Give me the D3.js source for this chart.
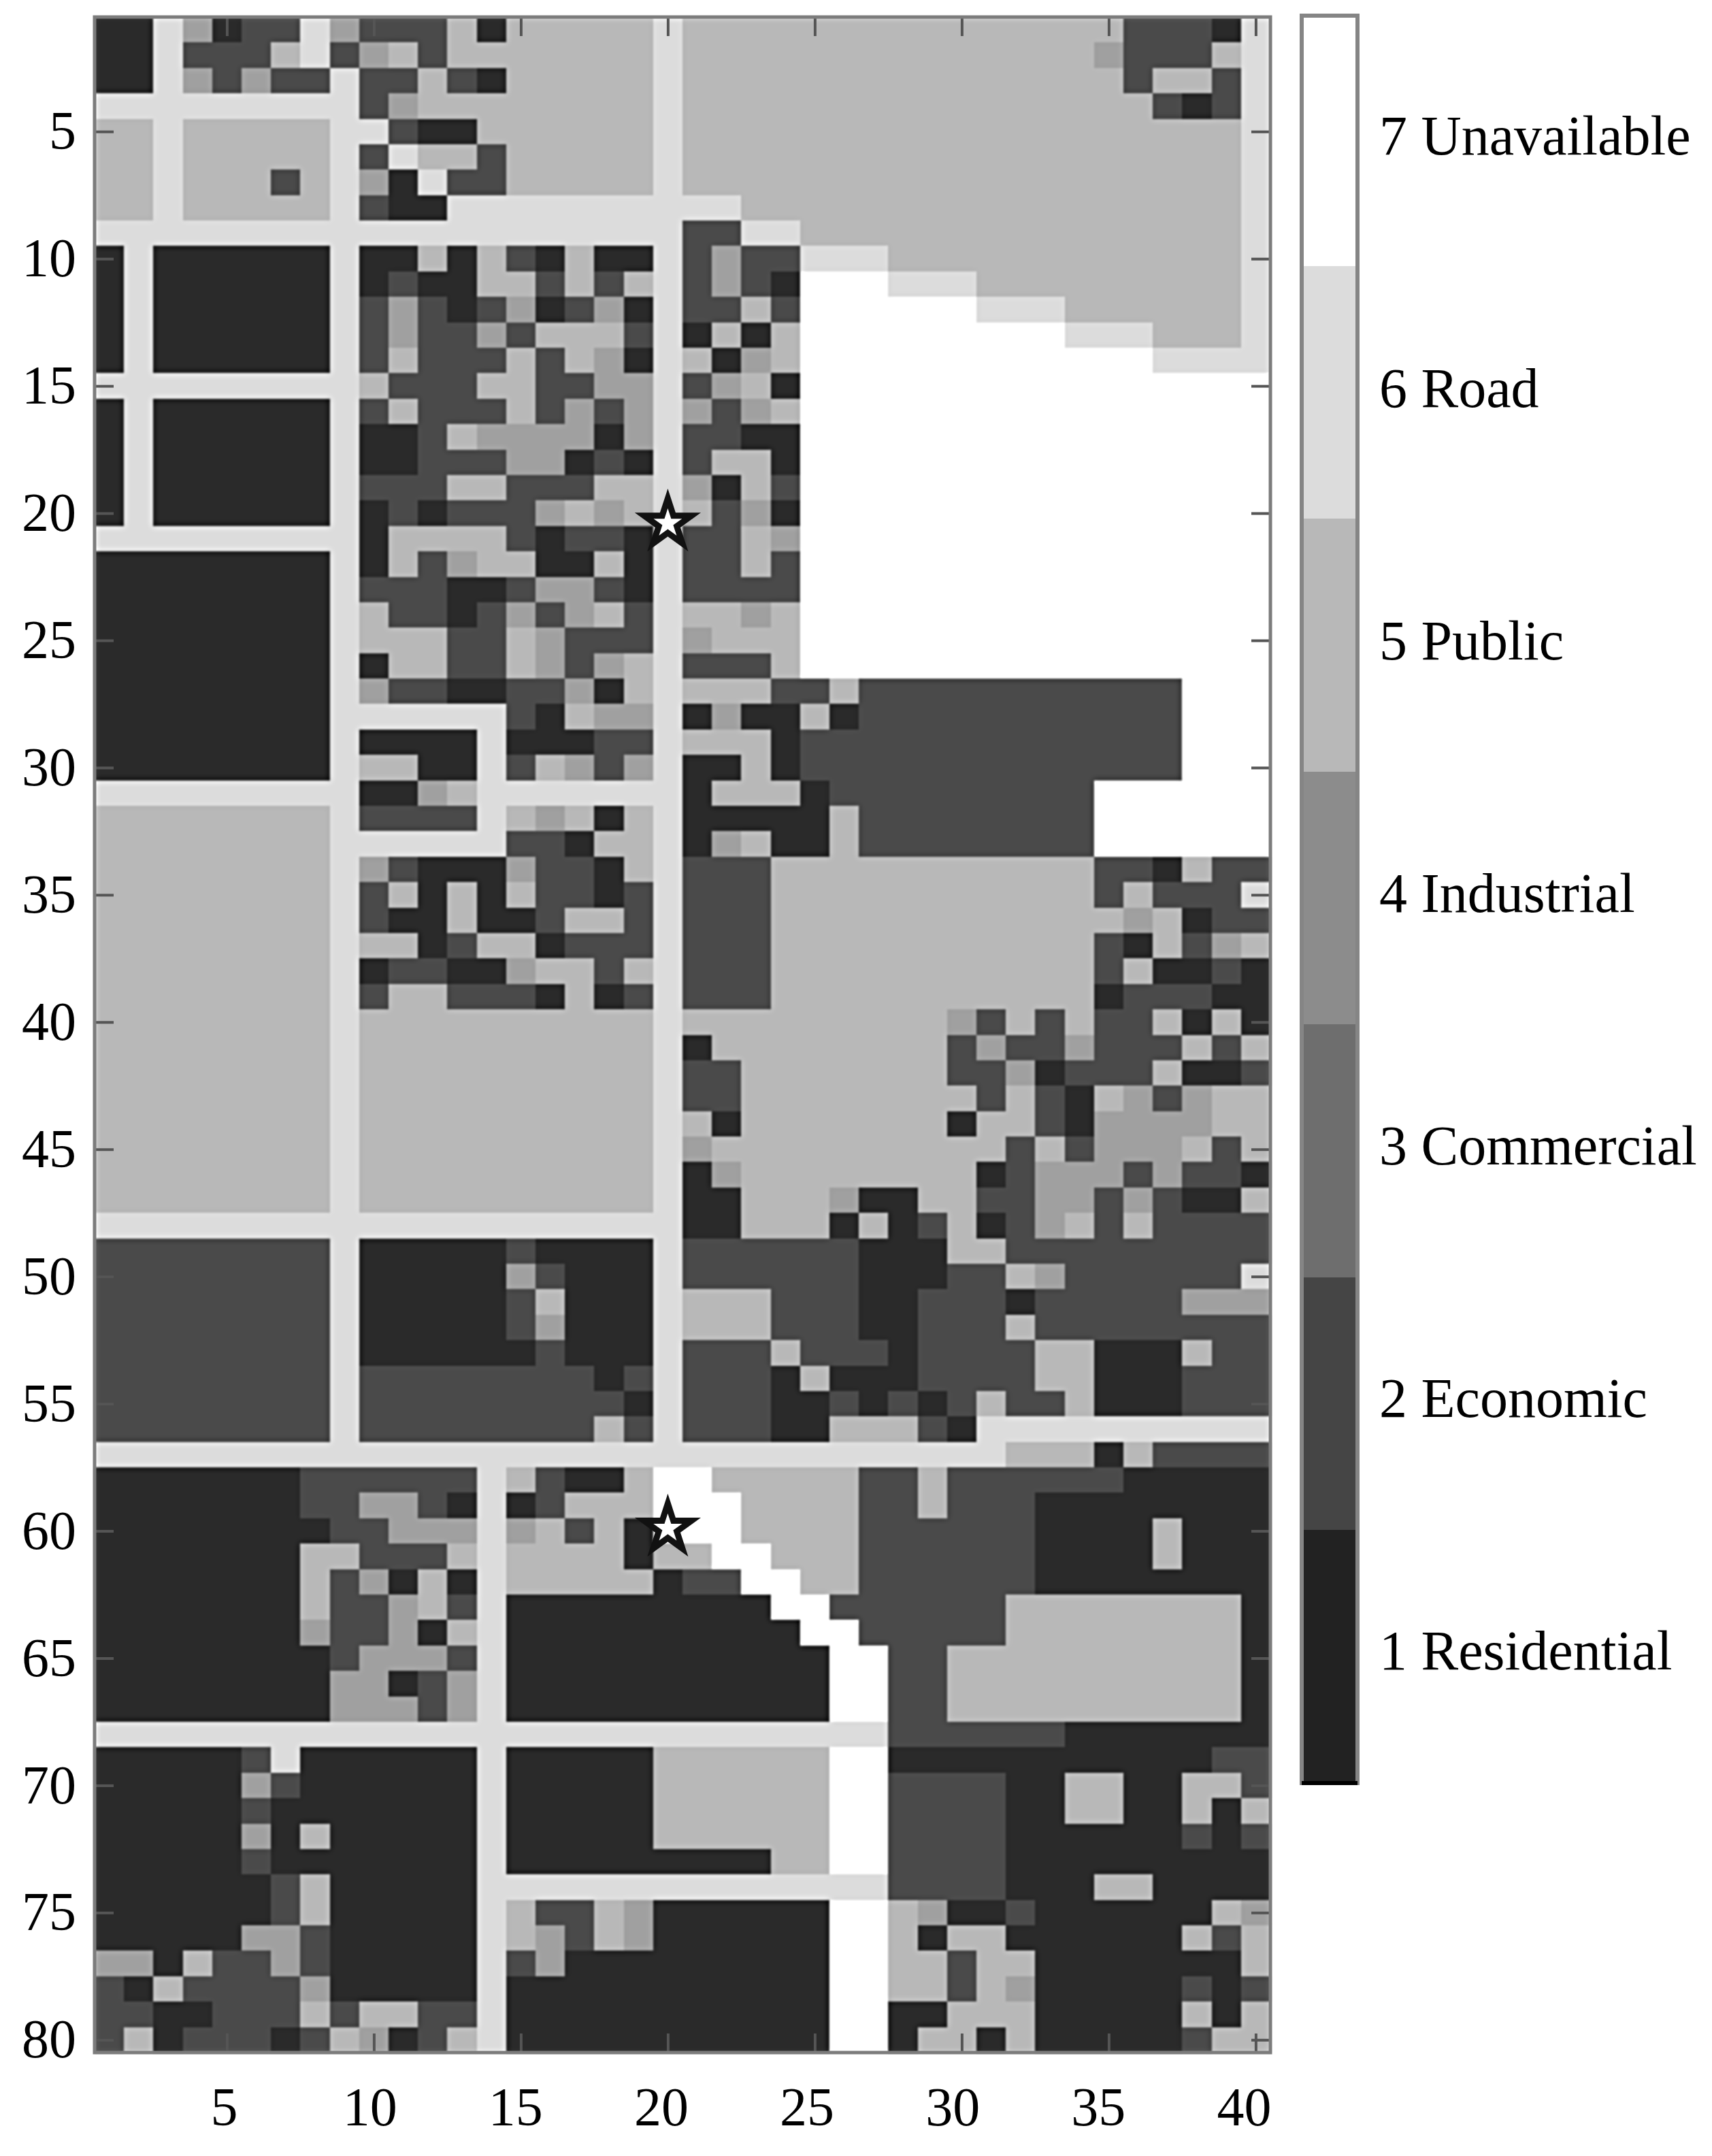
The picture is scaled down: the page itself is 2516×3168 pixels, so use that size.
<!DOCTYPE html>
<html>
<head>
<meta charset="utf-8">
<script src="https://cdn.jsdelivr.net/npm/d3@7"></script>
<style>
  html, body { margin: 0; padding: 0; background: #fff; }
  svg { display: block; }
</style>
</head>
<body>
<svg id="vis" width="2516" height="3168"></svg>
<script>
// Land use codes, as in the colour bar, top to bottom
const CODES = [7, 6, 5, 4, 3, 2, 1];
const CODE_NAMES = ["7 Unavailable", "6 Road", "5 Public", "4 Industrial", "3 Commercial", "2 Economic", "1 Residential"];
const MAP_GREYS = ["#ffffff", "#dcdcdc", "#b8b8b8", "#a0a0a0", "#6e6e6e", "#4a4a4a", "#2a2a2a"];
const BAR_GREYS = ["#ffffff", "#dcdcdc", "#b8b8b8", "#8c8c8c", "#6e6e6e", "#454545", "#222222"];

const X_TICKS = [5, 10, 15, 20, 25, 30, 35, 40];
const Y_TICKS = [5, 10, 15, 20, 25, 30, 35, 40, 45, 50, 55, 60, 65, 70, 75, 80];

// Star markers, in grid units
const STAR_COLS = [20, 20];
const STAR_ROWS = [20.4, 59.9];

// One string per grid row, one digit per column, in blocks of ten
const GRID = [
  "1164122642 2251555556 5555555555 5555522216",
  "1162225624 5255555556 5555555555 5555422256",
  "1164242262 2521555556 5555555555 5555525526",
  "6666666662 4555555556 5555555555 5555552126",
  "5565555566 2115555556 5555555555 5555555556",
  "5565555562 6552555556 5555555555 5555555556",
  "5565552564 1622555556 5555555555 5555555556",
  "5565555562 1166666666 6655555555 5555555556",
  "6666666666 6666666666 2266555555 5555555556",
  "1611111161 1515215116 2422666555 5555555556",
  "1611111161 2115525256 2421777666 5555555556",
  "1611111162 4212412416 2252777777 6665555556",
  "1611111162 4224255526 1515777777 7776665556",
  "1611111162 5222525416 5145777777 7777776666",
  "6666666665 2225522446 2451777777 7777777777",
  "1611111162 5222524246 4245777777 7777777777",
  "1611111161 1254444146 2211777777 7777777777",
  "1611111161 1222441216 2551777777 7777777777",
  "1611111162 2255222556 4152777777 7777777777",
  "1611111161 2122245456 5241777777 7777777777",
  "6666666661 5555212216 2254777777 7777777777",
  "1111111161 5245511516 2252777777 7777777777",
  "1111111162 2211244216 2222777777 7777777777",
  "1111111165 2212424526 5545777777 7777777777",
  "1111111165 5522542226 4555777777 7777777777",
  "1111111161 5522542456 2225777777 7777777777",
  "1111111164 2211224156 5552252222 2222222777",
  "1111111166 6666215446 1411512222 2222222777",
  "1111111161 1116111226 5551222222 2222222777",
  "1111111165 5116254246 1151222222 2222222777",
  "6666666661 1456666666 1555122222 2222777777",
  "5555555562 2226545156 1111152222 2222777777",
  "5555555566 6666221556 1451152222 2222777777",
  "5555555564 2111422156 2225555555 5555221522",
  "5555555562 5151522126 2225555555 5555252226",
  "5555555562 1151125526 2225555555 5555545122",
  "5555555565 5125512226 2225555555 5555215245",
  "5555555561 2211455256 2225555555 5555251121",
  "5555555562 5522215126 2225555555 5555122211",
  "5555555565 5555555556 5555555554 2525225151",
  "5555555565 5555555556 1555555552 4224222525",
  "5555555565 5555555556 2255555552 2412225112",
  "5555555565 5555555556 2255555555 2521542455",
  "5555555565 5555555556 5155555551 5521444455",
  "5555555565 5555555556 4555555555 5252444525",
  "5555555565 5555555556 1455555555 1244424221",
  "5555555565 5555555556 1155541155 2244242115",
  "6666666666 6666666666 1155515125 1245252222",
  "2222222261 1111211116 2222221115 5222222222",
  "2222222261 1111421116 2222221112 2542222226",
  "2222222261 1111251116 5552221122 2122222444",
  "2222222261 1111241116 5552221122 2522222222",
  "2222222261 1111121116 2225222122 2255111522",
  "2222222262 2222222126 2221511122 2255111222",
  "2222222262 2222222216 2221121212 5225111222",
  "2222222262 2222222526 2221155521 6666666666",
  "6666666666 6666666666 6666666666 6555152222",
  "1111111222 2226521157 7555552252 2222211111",
  "1111111224 4216125557 7755552252 2211111111",
  "1111111122 4446452517 7755552222 2211115111",
  "1111111552 2256555515 5775552222 2211115111",
  "1111111524 1516555551 2277552222 2211111111",
  "1111111522 4526111111 1117722222 2555555551",
  "1111111422 4156111111 1111772222 2555555551",
  "1111111124 4426111111 1111177225 5555555551",
  "1111111144 1246111111 1111177225 5555555551",
  "1111111144 4246111111 1111177225 5555555551",
  "6666666666 6666666666 6666666222 2221111111",
  "1111126111 1116111115 5555577111 1111111122",
  "1111142111 1116111115 5555577222 2115511552",
  "1111121111 1116111115 5555577222 2115511515",
  "1111141511 1116111115 5555577222 2111111212",
  "1111121111 1116111111 1115577222 2111111111",
  "1111112511 1116666666 6666666222 2111551111",
  "1111112511 1116522541 1111177541 1211111154",
  "1111144211 1116542541 1111177515 5111111525",
  "4415224211 1116241111 1111177552 5511111115",
  "2152222411 1116111111 1111177552 5411111212",
  "2211222525 5226111111 1111177115 5511111515",
  "2512221254 1256111111 1111177155 1511111255"
];

const SVG = d3.select("#vis");

const LEFT = 139, RIGHT = 1867, TOP = 25, BOTTOM = 3016;
const COLS = d3.range(1, 41);
const ROWS = d3.range(1, 81);

const x = d3.scaleBand().domain(COLS).range([LEFT, RIGHT]);
const y = d3.scaleBand().domain(ROWS).range([TOP, BOTTOM]);
// Continuous versions for the ticks and the stars
const xPos = d3.scaleLinear().domain([0.5, 40.5]).range([LEFT, RIGHT]);
const yPos = d3.scaleLinear().domain([0.5, 80.5]).range([TOP, BOTTOM]);
// The printed x labels sit a little tighter than the ticks
const xLabel = d3.scaleLinear().domain([5, 40]).range([329, 1828]);

const mapGrey = d3.scaleOrdinal(CODES, MAP_GREYS);
const barGrey = d3.scaleOrdinal(CODES, BAR_GREYS);

// Soft, slightly over-sharpened look of the scanned figure
const filter = SVG.append("defs").append("filter")
  .attr("id", "scan")
  .attr("filterUnits", "userSpaceOnUse")
  .attr("x", 0).attr("y", 0).attr("width", 2516).attr("height", 3168)
  .attr("color-interpolation-filters", "sRGB");
filter.append("feGaussianBlur").attr("in", "SourceGraphic").attr("stdDeviation", 1.6).attr("result", "soft");
filter.append("feGaussianBlur").attr("in", "SourceGraphic").attr("stdDeviation", 5).attr("result", "wide");
filter.append("feComposite").attr("in", "soft").attr("in2", "wide")
  .attr("operator", "arithmetic").attr("k1", 0).attr("k2", 1.45).attr("k3", -0.45).attr("k4", 0);

// Map cells
const cells = [];
GRID.forEach((row, r) => {
  row.replace(/ /g, "").split("").forEach((c, i) => cells.push({ row: r + 1, col: i + 1, code: +c }));
});

const mapG = SVG.append("g").attr("filter", "url(#scan)");
mapG.append("g").selectAll("rect")
  .data(cells)
  .join("rect")
  .attr("x", d => x(d.col))
  .attr("y", d => y(d.row))
  .attr("width", x.bandwidth() + 0.5)
  .attr("height", y.bandwidth() + 0.5)
  .attr("fill", d => mapGrey(d.code))
  .attr("shape-rendering", "crispEdges");

// Inward ticks on all four sides
const tickG = SVG.append("g");
tickG.append("g").attr("transform", `translate(0, ${TOP})`)
  .call(d3.axisTop(xPos).tickValues(X_TICKS).tickSize(-28).tickFormat(""));
tickG.append("g").attr("transform", `translate(0, ${BOTTOM})`)
  .call(d3.axisBottom(xPos).tickValues(X_TICKS).tickSize(-28).tickFormat(""));
tickG.append("g").attr("transform", `translate(${LEFT}, 0)`)
  .call(d3.axisLeft(yPos).tickValues(Y_TICKS).tickSize(-28).tickFormat(""));
tickG.append("g").attr("transform", `translate(${RIGHT}, 0)`)
  .call(d3.axisRight(yPos).tickValues(Y_TICKS).tickSize(-28).tickFormat(""));
tickG.selectAll(".domain").remove();
tickG.selectAll("line").attr("stroke", "#555").attr("stroke-width", 4);

// Plot frame
SVG.append("rect")
  .attr("x", LEFT).attr("y", TOP)
  .attr("width", RIGHT - LEFT).attr("height", BOTTOM - TOP)
  .attr("fill", "none").attr("stroke", "#7c7c7c").attr("stroke-width", 5);

// Stars
const star = d3.symbol().type(d3.symbolStar).size(1500);
SVG.append("g").selectAll("path")
  .data(STAR_COLS.map((c, i) => ({ col: c, row: STAR_ROWS[i] })))
  .join("path")
  .attr("d", star)
  .attr("transform", d => `translate(${xPos(d.col)}, ${yPos(d.row)})`)
  .attr("fill", "#fff")
  .attr("stroke", "#111")
  .attr("stroke-width", 9)
  .attr("stroke-linejoin", "miter");

// Tick labels
const labelStyle = g => {
  g.attr("font-family", "'Liberation Serif', serif").attr("font-size", 80);
  g.selectAll("text").attr("fill", "#000");
  g.select(".domain").remove();
};
SVG.append("g").attr("transform", `translate(0, ${BOTTOM})`)
  .call(d3.axisBottom(xLabel).tickValues(X_TICKS).tickSize(0).tickPadding(50))
  .call(labelStyle);
SVG.append("g").attr("transform", `translate(${LEFT}, 0)`)
  .call(d3.axisLeft(yPos).tickValues(Y_TICKS).tickSize(0).tickPadding(27))
  .call(labelStyle);

// Colour bar
const BAR_LEFT = 1913, BAR_RIGHT = 1995, BAR_TOP = 19, BAR_BOTTOM = 2620;
const barY = d3.scaleBand().domain(CODES).range([BAR_TOP, BAR_BOTTOM]);
const barLabelY = d3.scalePoint().domain(CODES).range([227, 2453]);

const barG = SVG.append("g");
barG.selectAll("rect")
  .data(CODES)
  .join("rect")
  .attr("x", BAR_LEFT)
  .attr("y", d => barY(d))
  .attr("width", BAR_RIGHT - BAR_LEFT)
  .attr("height", barY.bandwidth() + 0.5)
  .attr("fill", d => barGrey(d))
  .attr("shape-rendering", "crispEdges");
barG.append("rect")
  .attr("x", BAR_LEFT).attr("y", BAR_TOP + 4)
  .attr("width", BAR_RIGHT - BAR_LEFT).attr("height", BAR_BOTTOM - BAR_TOP - 4)
  .attr("fill", "none").attr("stroke", "#858585").attr("stroke-width", 6);
barG.append("line")
  .attr("x1", BAR_LEFT).attr("x2", BAR_RIGHT)
  .attr("y1", BAR_BOTTOM).attr("y2", BAR_BOTTOM)
  .attr("stroke", "#000").attr("stroke-width", 6);

SVG.append("g").selectAll("text")
  .data(CODES)
  .join("text")
  .attr("x", 2027)
  .attr("y", d => barLabelY(d))
  .attr("font-family", "'Liberation Serif', serif")
  .attr("font-size", 82)
  .attr("fill", "#000")
  .text((d, i) => CODE_NAMES[i]);
</script>
</body>
</html>
